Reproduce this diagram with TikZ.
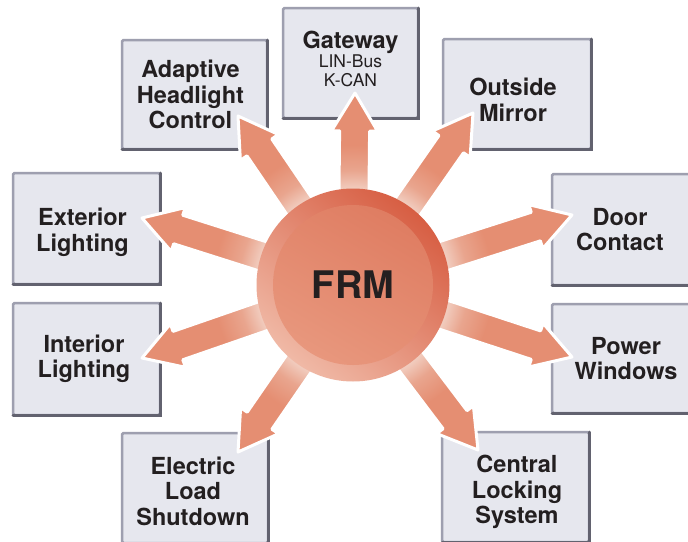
\documentclass[tikz,border=0pt]{standalone}
\usepackage{fontspec}
\setmainfont{TeX Gyre Heros}
\usetikzlibrary{calc}
\definecolor{boxfill}{HTML}{E6E7EE}
\definecolor{boxlight}{HTML}{9E9FAF}
\definecolor{boxdark}{HTML}{62626F}
\definecolor{arrowcol}{HTML}{E58E72}
\definecolor{armpale}{HTML}{F1CBBD}
\definecolor{armmid}{HTML}{E9A58E}
\definecolor{txt}{HTML}{231F20}
\definecolor{ringdark}{HTML}{D75E43}
\definecolor{ringlight}{HTML}{F0B9A6}
\definecolor{discdark}{HTML}{DF7D62}
\definecolor{disclight}{HTML}{E8977D}
% the circle of radius 140pt is mapped onto 25bp of the shading
\pgfdeclareradialshading{armshade}{\pgfpointorigin}{color(0bp)=(armpale); color(17.3bp)=(armpale); color(20.5bp)=(armmid); color(25bp)=(arrowcol); color(50bp)=(arrowcol)}
\pgfdeclarelayer{bg}
\pgfdeclarelayer{mid}
\pgfsetlayers{bg,mid,main}
\tikzset{
  box/.style={draw=boxlight, fill=boxfill, line width=2.5pt, rounded corners=1.5pt,
    outer sep=0pt, inner sep=0pt, minimum width=146pt, minimum height=110pt},
  boxtext/.style={align=center, inner sep=0pt, font=\fontsize{23.5}{25.5}\selectfont\bfseries, text=txt},
  fatarrow/.style={draw=white, line width=3pt, line join=round},
  boxedge/.style={draw=boxdark, line width=3pt, line cap=round},
}
\newcommand\arrpath[2]{($(#1)!15pt!-90:(#2)$) -- ($(#2)!38pt!(#1)!15pt!-90:(#2)$)
    -- ($(#2)!38pt!(#1)!23pt!-90:(#2)$) -- (#2)
    -- ($(#2)!38pt!(#1)!23pt!90:(#2)$) -- ($(#2)!38pt!(#1)!15pt!90:(#2)$)
    -- ($(#1)!15pt!90:(#2)$) -- cycle}
\begin{document}
\begin{tikzpicture}[x=1pt,y=-1pt]
\useasboundingbox (0,0) rectangle (688,541);
\clip (0,0) rectangle (688,541);
\begin{pgfonlayer}{bg}
  \fill[white] (0,0) rectangle (688,541);
  \node[box, minimum width=135pt] (gw) at (350.5,63) {};
  \node[box, minimum width=145pt, minimum height=109pt] (ahc) at (194.5,94.5) {};
  \node[box, minimum width=148pt] (om) at (517,94) {};
  \node[box, minimum width=147pt, minimum height=111pt] (el) at (86.5,228.5) {};
  \node[box, minimum height=111pt] (dc) at (625,229.5) {};
  \node[box, minimum width=147pt, minimum height=112pt] (il) at (86.5,359) {};
  \node[box, minimum height=109pt] (pw) at (625,358.5) {};
  \node[box] (els) at (195,488) {};
  \node[box, minimum width=147pt] (cls) at (515.5,487) {};
  \foreach \n in {gw,ahc,om,el,dc,il,pw,els,cls}
    \draw[boxedge] (\n.north east) -- (\n.south east) -- (\n.south west);
  \node[boxtext, font=\fontsize{17.5}{19}\selectfont] (gw-t) at ([yshift=4pt]gw.center)
    {{\fontsize{23.5}{19}\selectfont\bfseries Gateway}\\LIN-Bus\\K-CAN};
  \node[boxtext] (ahc-t) at ([xshift=-4pt]ahc.center) {Adaptive\\Headlight\\Control};
  \node[boxtext] (om-t) at ([xshift=-4pt,yshift=-6pt]om.center) {Outside\\Mirror};
  \node[boxtext] (el-t) at ([xshift=-4pt,yshift=-4pt]el.center) {Exterior\\Lighting};
  \node[boxtext] (dc-t) at ([xshift=-5pt]dc.center) {Door\\Contact};
  \node[boxtext] (il-t) at ([xshift=-2.5pt]il.center) {Interior\\Lighting};
  \node[boxtext] (pw-t) at ([xshift=1pt]pw.center) {Power\\Windows};
  \node[boxtext] (els-t) at ([xshift=-2pt,yshift=-3pt]els.center) {Electric\\Load\\Shutdown};
  \node[boxtext] (cls-t) at ([xshift=1.5pt,yshift=-5pt]cls.center) {Central\\Locking\\System};
\end{pgfonlayer}
% central module
\shade[top color=ringdark, bottom color=ringlight, shading angle=-40] (353,285) circle (96.5pt);
\shade[top color=discdark, bottom color=disclight, shading angle=-30] (353,285) circle (80pt);
\node[font=\fontsize{38}{40}\selectfont\bfseries, text=txt] (frm) at (353,285) {FRM};
% arrow tips
\coordinate (t-gw) at (355,93);
\coordinate (t-ahc) at (238,116);
\coordinate (t-om) at (473,113);
\coordinate (t-el) at (142,218);
\coordinate (t-dc) at (572,215);
\coordinate (t-il) at (142,358);
\coordinate (t-pw) at (572,357);
\coordinate (t-els) at (238,452);
\coordinate (t-cls) at (478,450);
\begin{pgfonlayer}{mid}
  \fill[arrowcol] \foreach \t in {t-gw,t-ahc,t-om,t-el,t-dc,t-il,t-pw,t-els,t-cls}
    {\arrpath{frm.center}{\t}};
  \begin{scope}
    \clip \foreach \t in {t-gw,t-ahc,t-om,t-el,t-dc,t-il,t-pw,t-els,t-cls}
      {\arrpath{frm.center}{\t}};
    \shade[shading=armshade] (frm.center) circle (140pt);
  \end{scope}
  \foreach \t in {t-gw,t-ahc,t-om,t-el,t-dc,t-il,t-pw,t-els,t-cls}
    \draw[fatarrow] \arrpath{frm.center}{\t};
\end{pgfonlayer}
\end{tikzpicture}
\end{document}
